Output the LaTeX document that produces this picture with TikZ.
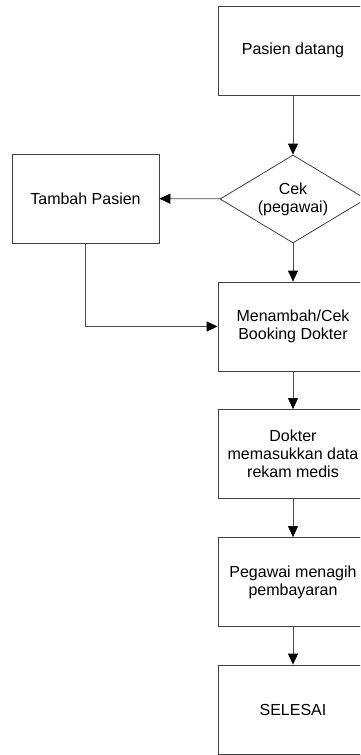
\documentclass[tikz,border=0pt]{standalone}
\usepackage{fontspec}
\setmainfont{Liberation Sans}
\usetikzlibrary{shapes.geometric,arrows.meta}
\begin{document}
\begin{tikzpicture}[x=1pt,y=-1pt,
	langkah/.style={draw=black!75, line width=0.8pt, minimum width=150pt, minimum height=89pt, inner sep=0pt, align=center, font=\fontsize{16}{18}\selectfont},
	cek/.style={draw=black!75, line width=0.8pt, diamond, shape aspect=1.66, minimum width=146pt, minimum height=88pt, inner sep=0pt, align=center, font=\fontsize{16}{18}\selectfont},
	panah/.style={draw=black!70, line width=0.8pt, -{Triangle[length=11pt,width=10pt,color=black]}}]

		\useasboundingbox (0,0) rectangle (360,755);
		\clip (0,0) rectangle (360,755);

		\node[langkah] (datang) at (293,50.5) {Pasien datang};
		\node[cek] (periksa) at (293,199) {Cek\\(pegawai)};
		\node[langkah, minimum width=147pt] (tambah) at (85.5,198.5) {Tambah Pasien};
		\node[langkah] (booking) at (293,326.5) {Menambah/Cek\\Booking Dokter};
		\node[langkah] (rekam) at (293,454) {Dokter\\memasukkan data\\rekam medis};
		\node[langkah] (tagih) at (293,582) {Pegawai menagih\\pembayaran};
		\node[langkah] (selesai) at (293,709.5) {SELESAI};

		\draw[panah] (datang) -- (periksa);
		\draw[panah] (periksa) -- (tambah);
		\draw[panah] (periksa) -- (booking);
		\draw[panah] (tambah.south) |- (booking.west);
		\foreach \a/\b in {booking/rekam,rekam/tagih,tagih/selesai}
		\draw[panah] (\a) -- (\b);
	\end{tikzpicture}
\end{document}
